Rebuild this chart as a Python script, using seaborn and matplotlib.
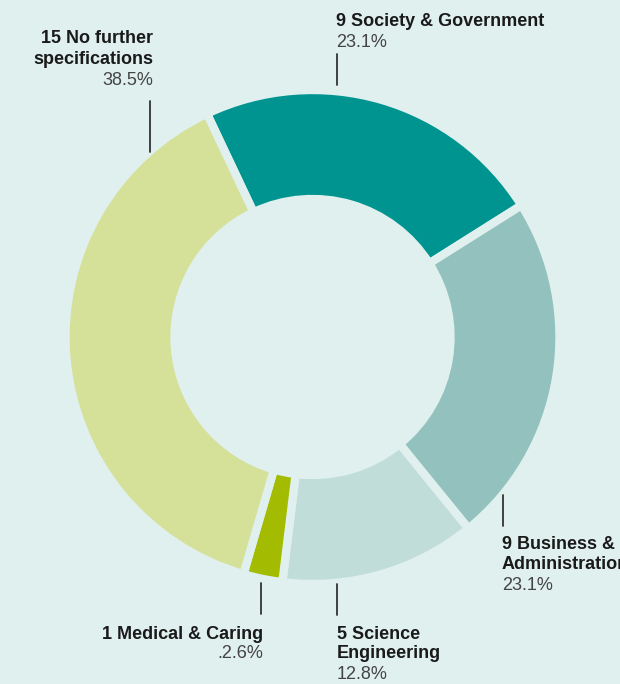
import matplotlib
matplotlib.use("Agg")
import matplotlib.pyplot as plt
import seaborn as sns

sns.set_theme(style="white")
plt.rcParams['font.family'] = ['Liberation Sans', 'DejaVu Sans']

# data, clockwise from the top
categories = ["Society & Government", "Business &\nAdministration", "Science\nEngineering",
              "Medical & Caring", "No further\nspecifications"]
counts = [9, 9, 5, 1, 15]
pct_labels = ["23.1%", "23.1%", "12.8%", ".2.6%", "38.5%"]
colors = ["#009490", "#93c1bd", "#c1ddd9", "#a3bc02", "#d5e098"]
bg = "#dff0ee"

W, H = 620, 684
fig = plt.figure(figsize=(W / 100, H / 100), dpi=100, facecolor=bg)

# pie centre (312.5, 337) px, outer radius incl. half edge 247 px
cx, cy, R = 312.5, 337, 247
ax = fig.add_axes([(cx - R) / W, (H - cy - R) / H, 2 * R / W, 2 * R / H])
ax.set_facecolor(bg)
ax.pie(counts, colors=colors, startangle=115.3, counterclock=False, radius=1,
       wedgeprops=dict(width=109 / R, edgecolor=bg, linewidth=6))
ax.set_xlim(-1, 1)
ax.set_ylim(-1, 1)
ax.axis('off')


def px(x, y):
    return x / W, 1 - y / H


# label layout: (x, ha, baselines, leader x, leader y0, leader y1)
layout = [
    (336, 'left', [26, 47], 337, 54, 85),
    (502, 'left', [549, 569, 590], 503, 495, 526),
    (337, 'left', [639, 658, 679], 337, 584, 615),
    (263, 'right', [639, 658], 261, 583, 614),
    (153, 'right', [43, 64, 85], 150, 101, 152),
]

for cat, n, pct, (x, ha, ys, lx, ly0, ly1) in zip(categories, counts, pct_labels, layout):
    lines = (str(n) + " " + cat).split("\n")
    for txt, y in zip(lines, ys):
        fig.text(*px(x, y), txt, ha=ha, va='baseline', fontsize=13,
                 fontweight='bold', color='#1a1a1a')
    fig.text(*px(x, ys[len(lines)]), pct, ha=ha, va='baseline', fontsize=13,
             color='#444444')
    fig.add_artist(plt.Line2D([lx / W, lx / W], [1 - ly0 / H, 1 - ly1 / H],
                              color='#333333', linewidth=1.3, transform=fig.transFigure))

fig.savefig("out.png", dpi=100, facecolor=bg)
